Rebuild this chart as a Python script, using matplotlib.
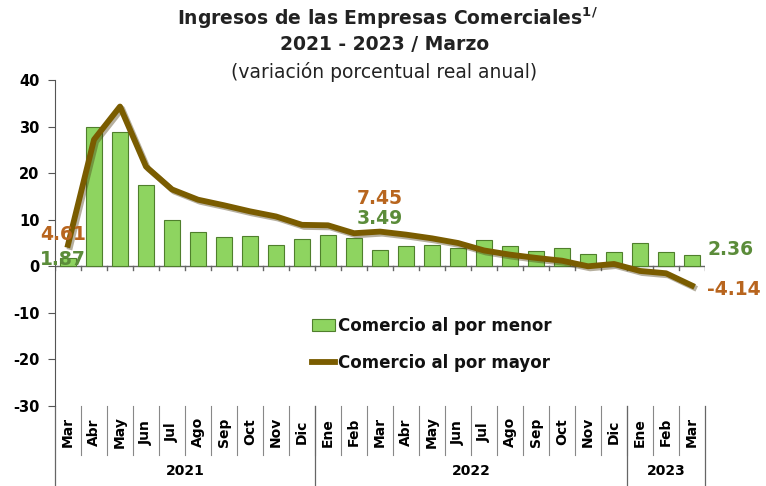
import matplotlib
matplotlib.use("Agg")
import matplotlib.pyplot as plt
import matplotlib.patheffects as pe
import matplotlib.transforms as mtransforms
from matplotlib.patches import Patch
from matplotlib.lines import Line2D
import numpy as np

plt.rcParams['font.family'] = ['DejaVu Sans']

months = ["Mar", "Abr", "May", "Jun", "Jul", "Ago", "Sep", "Oct", "Nov", "Dic",
          "Ene", "Feb", "Mar", "Abr", "May", "Jun", "Jul", "Ago", "Sep", "Oct", "Nov", "Dic",
          "Ene", "Feb", "Mar"]
years = ["2021", "2022", "2023"]
year_counts = [10, 12, 3]

menor = [1.87, 29.9, 28.8, 17.5, 10.0, 7.3, 6.2, 6.4, 4.6, 5.8,
         6.8, 6.0, 3.49, 4.3, 4.5, 4.0, 5.6, 4.3, 3.2, 3.9, 2.6, 3.0,
         4.9, 3.1, 2.36]
mayor = [4.61, 27.2, 34.3, 21.4, 16.5, 14.3, 13.1, 11.8, 10.7, 8.9,
         8.8, 7.1, 7.45, 6.8, 6.0, 5.0, 3.4, 2.5, 1.8, 1.2, 0.0, 0.5,
         -1.0, -1.5, -4.14]

yticks = [40, 30, 20, 10, 0, -10, -20, -30]

bar_color = "#8ED460"
bar_edge = "#4F7F2C"
line_color = "#7A5C00"
lab_brown = "#B8651E"
lab_green = "#5B8C3A"

fig = plt.figure(figsize=(7.66, 4.86), dpi=100)
ax = fig.add_axes([55/766, 80/486, 650/766, 326/486])

x = np.arange(len(months))
ax.bar(x, menor, width=0.62, color=bar_color, edgecolor=bar_edge, linewidth=0.8, zorder=2)
ax.plot(x, mayor, color=line_color, linewidth=4.2, solid_joinstyle='round', zorder=3,
        path_effects=[pe.SimpleLineShadow(offset=(1.5, -1.5), alpha=0.4, shadow_color='#4a3a10'),
                      pe.Normal()])

ax.set_xlim(-0.5, len(months) - 0.5)
ax.set_ylim(-30, 40)
ax.set_yticks(yticks)
ax.set_yticklabels([str(v) for v in yticks], fontsize=10.5, fontweight='bold')
ax.tick_params(axis='y', direction='out', length=5, color='#555555', pad=6)
ax.set_xticks([])
for s in ['top', 'right', 'bottom']:
    ax.spines[s].set_visible(False)
ax.spines['left'].set_color('#555555')

# zero line with small ticks
ax.axhline(0, color='#666666', linewidth=1.0, zorder=1)
for b in np.arange(-0.5, len(months), 1.0):
    ax.plot([b, b], [0, -0.9], color='#666666', linewidth=1.0, zorder=1)

# data labels
ax.text(-0.2, 6.8, "4.61", color=lab_brown, fontsize=13.5, fontweight='bold', ha='center', va='center')
ax.text(-0.2, 1.5, "1.87", color=lab_green, fontsize=13.5, fontweight='bold', ha='center', va='center')
ax.text(12, 14.5, "7.45", color=lab_brown, fontsize=13.5, fontweight='bold', ha='center', va='center')
ax.text(12, 10.2, "3.49", color=lab_green, fontsize=13.5, fontweight='bold', ha='center', va='center')
ax.text(25.5, 3.7, "2.36", color=lab_green, fontsize=13.5, fontweight='bold', ha='center', va='center')
ax.text(25.6, -5.0, "-4.14", color=lab_brown, fontsize=13.5, fontweight='bold', ha='center', va='center')

# category axis below
trans = mtransforms.blended_transform_factory(ax.transData, ax.transAxes)
for i, m in enumerate(months):
    ax.text(i, -0.08, m, rotation=90, ha='center', va='center', fontsize=10,
            fontweight='bold', transform=trans, clip_on=False)
for b in np.arange(0.5, len(months) - 0.5, 1.0):
    ax.plot([b, b], [0.0, -0.15], color='#888888', linewidth=0.8, transform=trans, clip_on=False)
bounds = [-0.5]
for c in year_counts:
    bounds.append(bounds[-1] + c)
for b in bounds:
    ax.plot([b, b], [0.0, -0.245], color='#666666', linewidth=0.9, transform=trans, clip_on=False)
for yr, a, bnd in zip(years, bounds[:-1], bounds[1:]):
    ax.text((a + bnd) / 2, -0.2, yr, ha='center', va='center', fontsize=10,
            fontweight='bold', transform=trans, clip_on=False)

# legend
handles = [Patch(facecolor=bar_color, edgecolor=bar_edge, linewidth=0.8),
           Line2D([0], [0], color=line_color, linewidth=4.2)]
labels = ["Comercio al por menor", "Comercio al por mayor"]
leg = ax.legend(handles, labels, loc='upper left', bbox_to_anchor=(0.385, 0.293), frameon=False,
                fontsize=12, handlelength=1.4, handletextpad=0.15, labelspacing=1.15,
                borderaxespad=0)
for t in leg.get_texts():
    t.set_fontweight('bold')
    t.set_color('#111111')

# titles
fig.text(0.506, 1 - 18/486, r"Ingresos de las Empresas Comerciales$^{\mathbf{1/}}$", ha='center', va='center',
         fontsize=13.5, fontweight='bold', color='#222222')
fig.text(0.502, 1 - 45/486, "2021 - 2023 / Marzo", ha='center', va='center',
         fontsize=13.5, fontweight='bold', color='#222222')
fig.text(0.502, 1 - 72/486, "(variación porcentual real anual)", ha='center', va='center',
         fontsize=13.5, color='#222222')

fig.savefig("out.png", dpi=100)
